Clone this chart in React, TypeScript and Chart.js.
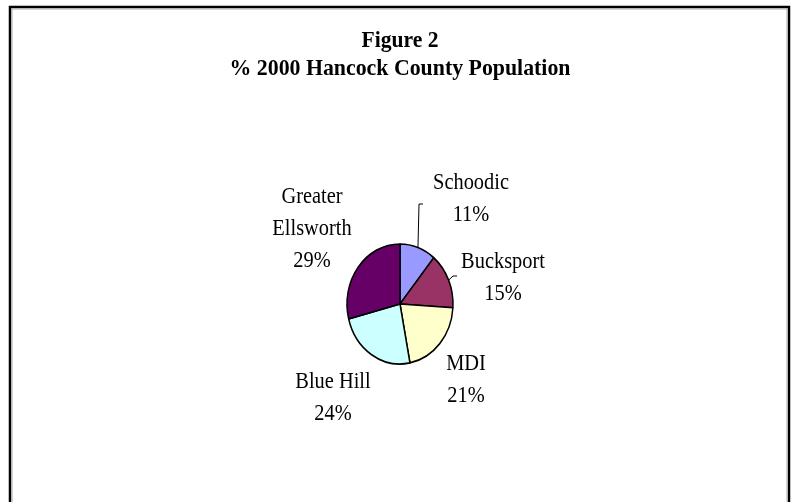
import React, { useEffect, useRef } from "react";
import { Chart, registerables } from "chart.js";

Chart.register(...registerables);

const categories = ["Schoodic", "Bucksport", "MDI", "Blue Hill", "Greater Ellsworth"];
const labelLines = [["Schoodic"], ["Bucksport"], ["MDI"], ["Blue Hill"], ["Greater", "Ellsworth"]];
const values = [11, 15, 21, 24, 29];
const colors = ["#9999FF", "#993366", "#FFFFCC", "#CCFFFF", "#660066"];
const titleLines = ["Figure 2", "% 2000 Hancock County Population"];

// layout (pixels relative to pie centre): label centre x, first baseline y
const labelOffsets: [number, number][] = [
  [71, -115],
  [103, -36],
  [66, 66],
  [-67, 84],
  [-88, -101],
];
// leader line end points relative to label anchor (null = no leader)
const leaderEnds: ([number, number] | null)[] = [[-52, 15], [-50, 8], null, null, null];

const W = 791;
const H = 502;
const CX = 400;
const CY = 304;
const RX = 53;
const RY = 60;
const SY = RY / RX;
const SERIF = "'Liberation Serif', 'Times New Roman', serif";

function drawCondensed(ctx: CanvasRenderingContext2D, text: string, x: number, y: number, sx: number) {
  ctx.save();
  ctx.translate(x, y);
  ctx.scale(sx, 1);
  ctx.textAlign = "center";
  ctx.textBaseline = "alphabetic";
  ctx.fillText(text, 0, 0);
  ctx.restore();
}

const ellipsePlugin = {
  id: "ellipse",
  beforeDatasetsDraw(chart: any) {
    const ctx = chart.ctx;
    const arc = chart.getDatasetMeta(0).data[0];
    ctx.save();
    ctx.translate(arc.x, arc.y);
    ctx.scale(1, SY);
    ctx.translate(-arc.x, -arc.y);
  },
  afterDatasetsDraw(chart: any) {
    chart.ctx.restore();
  },
  afterDraw(chart: any) {
    const ctx: CanvasRenderingContext2D = chart.ctx;
    const meta = chart.getDatasetMeta(0);
    const total = values.reduce((a, b) => a + b, 0);
    ctx.save();
    // frame
    ctx.strokeStyle = "#000";
    ctx.lineWidth = 2.5;
    ctx.strokeRect(10, 7, 779, 520);
    ctx.strokeStyle = "#aaa";
    ctx.lineWidth = 1;
    ctx.strokeRect(12, 9, 775, 516);
    // title
    ctx.fillStyle = "#000";
    ctx.font = `bold 24px ${SERIF}`;
    drawCondensed(ctx, titleLines[0], CX, 47, 0.9);
    drawCondensed(ctx, titleLines[1], CX, 75, 0.91);
    // labels
    ctx.font = `24px ${SERIF}`;
    meta.data.forEach((arc: any, i: number) => {
      const cx = arc.x;
      const cy = arc.y;
      const mid = (arc.startAngle + arc.endAngle) / 2;
      const r = arc.outerRadius;
      const ex = cx + Math.cos(mid) * r;
      const ey = cy + Math.sin(mid) * r * SY;
      const [ox, oy] = labelOffsets[i];
      const lx = cx + ox;
      const ly = cy + oy;
      const lines = [...labelLines[i], Math.round((values[i] / total) * 100) + "%"];
      lines.forEach((t, k) => drawCondensed(ctx, t, lx, ly + k * 32, 0.85));
      const le = leaderEnds[i];
      if (le) {
        const tx = lx + le[0];
        const ty = ly + le[1];
        ctx.strokeStyle = "#000";
        ctx.lineWidth = 1;
        ctx.beginPath();
        ctx.moveTo(ex, ey);
        ctx.lineTo(tx, ty);
        ctx.lineTo(tx + 4, ty);
        ctx.stroke();
      }
    });
    ctx.restore();
  },
};

export default function App() {
  const ref = useRef<HTMLCanvasElement | null>(null);
  useEffect(() => {
    document.body.style.margin = "0";
    const canvas = ref.current!;
    const chart = new Chart(canvas, {
      type: "pie",
      data: {
        labels: categories,
        datasets: [
          {
            data: values,
            backgroundColor: colors,
            borderColor: "#000",
            borderWidth: 1.5,
          },
        ],
      },
      options: {
        animation: false,
        responsive: false,
        radius: RX,
        layout: {
          padding: { left: CX - RX, right: W - CX - RX, top: CY - RX, bottom: H - CY - RX },
        },
        plugins: {
          legend: { display: false },
          tooltip: { enabled: false },
          title: { display: false },
        },
      } as any,
      plugins: [ellipsePlugin],
    });
    return () => chart.destroy();
  }, []);
  return <canvas ref={ref} width={W} height={H} style={{ display: "block", width: W, height: H }} />;
}
